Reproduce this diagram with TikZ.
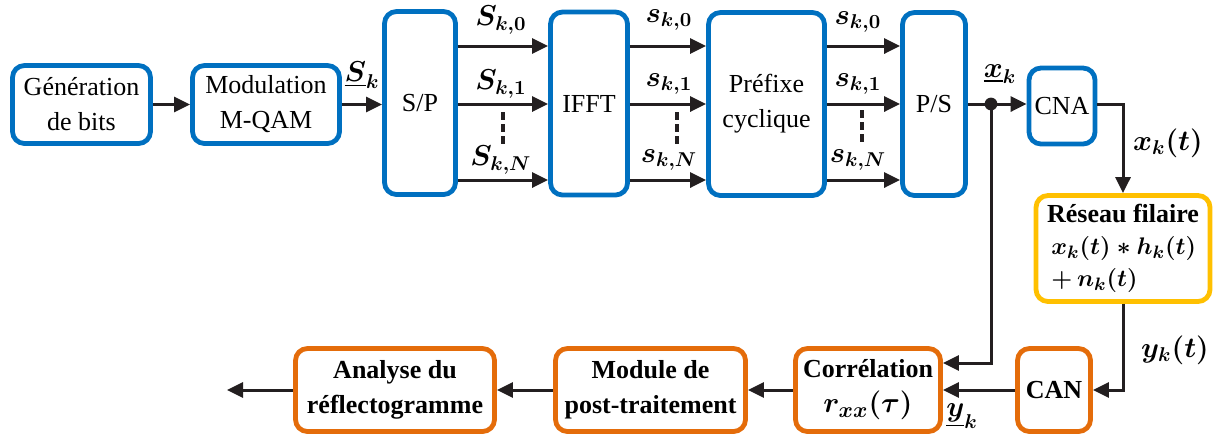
\documentclass[tikz,border=0pt]{standalone}
\usepackage{fontspec}
\setmainfont{Liberation Serif}
\usepackage{amsmath}
\usepackage{tikz}
\usetikzlibrary{arrows.meta}
\definecolor{bleu}{RGB}{0,112,192}
\definecolor{orangeb}{RGB}{228,108,10}
\definecolor{jaune}{RGB}{255,192,0}
\definecolor{trait}{RGB}{35,31,32}

\begin{document}
\begin{tikzpicture}[x=0.5pt, y=-0.5pt,
    bloc/.style = {draw=bleu, line width=2.4pt, rounded corners=6pt, fill=white, align=center, inner sep=2pt, font=\fontsize{13}{17.5}\selectfont},
    traite/.style = {bloc, draw=orangeb, font=\fontsize{13}{17.5}\selectfont\bfseries\boldmath},
    canal/.style = {bloc, draw=jaune, align=left, font=\fontsize{13}{16}\selectfont\bfseries\boldmath},
    sig/.style = {draw=trait, line width=1.5pt, -{Triangle[length=8pt,width=7.5pt]}},
    lbl/.style = {font=\fontsize{14.5}{16}\selectfont\boldmath, inner sep=1pt},
    pts/.style = {draw=trait, line width=1.6pt, dash pattern=on 4pt off 2pt}]
    \useasboundingbox (0,0) rectangle (1215,435);
    % chaine d'emission
    \node[bloc, minimum width=69pt, minimum height=39pt] (gen) at (81.5,104.5) {Génération\\de bits};
    \node[bloc, minimum width=73.5pt, minimum height=39pt] (mod) at (266,104.5) {Modulation\\M-QAM};
    \node[bloc, minimum width=35.5pt, minimum height=91.5pt] (sp) at (420,103) {S/P};
    \node[bloc, minimum width=38.5pt, minimum height=91.5pt] (ifft) at (589,103.5) {IFFT};
    \node[bloc, minimum width=58pt, minimum height=91.5pt] (cp) at (766.5,104) {Préfixe\\cyclique};
    \node[bloc, minimum width=31.5pt, minimum height=91.5pt] (ps) at (934,104) {P/S};
    \node[bloc, minimum width=33pt, minimum height=38pt] (cna) at (1062,106) {CNA};
    \node[canal, minimum width=87pt, minimum height=53pt] (res) at (1123,248.5)
        {Réseau filaire\\ \,$x_k(t) * h_k(t)$\\ \,$+\, n_k(t)$};
    % chaine de reception
    \node[traite, minimum width=36.5pt, minimum height=41.5pt] (can) at (1054,390) {CAN};
    \node[traite, minimum width=72.5pt, minimum height=41.5pt] (corr) at (868,390)
        {Corrélation\\{\fontsize{15}{17}\selectfont$r_{xx}(\tau)$}};
    \node[traite, minimum width=95pt, minimum height=41.5pt] (post) at (650.5,390) {Module de\\post-traitement};
    \node[traite, minimum width=99.5pt, minimum height=41.5pt] (ana) at (395,390) {Analyse du\\réflectogramme};
    \coordinate (fin) at (227,390);
    \coordinate (jct) at (991,104);
    \coordinate (haut) at (0,363);
    \coordinate (r0) at (0,46);
    \coordinate (r1) at (0,104);
    \coordinate (rN) at (0,180);
    % connexions
    \draw[sig] (gen) -- (mod);
    \draw[sig] (mod) -- (sp.west |- mod.east);
    \draw[sig] (sp.east |- r0) -- (ifft.west |- r0);
    \draw[sig] (sp.east |- r1) -- (ifft.west |- r1);
    \draw[sig] (sp.east |- rN) -- (ifft.west |- rN);
    \draw[sig] (ifft.east |- r0) -- (cp.west |- r0);
    \draw[sig] (ifft.east |- r1) -- (cp.west |- r1);
    \draw[sig] (ifft.east |- rN) -- (cp.west |- rN);
    \draw[sig] (cp.east |- r0) -- (ps.west |- r0);
    \draw[sig] (cp.east |- r1) -- (ps.west |- r1);
    \draw[sig] (cp.east |- rN) -- (ps.west |- rN);
    \draw[sig] (ps.east) -- (cna.west |- ps.east);
    \fill[trait] (jct) circle[radius=3.2pt];
    \draw[sig] (cna.east |- ps.east) -| (res.north);
    \draw[sig] (res.south) |- (can.east);
    \draw[sig] (jct) |- (corr.east |- haut);
    \draw[sig] (can) -- (corr);
    \draw[sig] (corr) -- (post);
    \draw[sig] (post) -- (ana);
    \draw[sig] (ana) -- (fin);
    % pointilles
    \draw[pts] (503,112) -- (503,144);
    \draw[pts] (677,112) -- (677,144);
    \draw[pts] (862,110) -- (862,142);
    % etiquettes
    \node[lbl] (lsk) at (362,75) {$\underline{S}_k$};
    \node[lbl] (ls0) at (501,20) {$S_{k,0}$};
    \node[lbl] (ls1) at (501,84) {$S_{k,1}$};
    \node[lbl] (lsN) at (501,160) {$S_{k,N}$};
    \node[lbl] (lt0) at (669,20) {$s_{k,0}$};
    \node[lbl] (lt1) at (669,84) {$s_{k,1}$};
    \node[lbl] (ltN) at (669,160) {$s_{k,N}$};
    \node[lbl] (lu0) at (858,22) {$s_{k,0}$};
    \node[lbl] (lu1) at (858,84) {$s_{k,1}$};
    \node[lbl] (luN) at (858,160) {$s_{k,N}$};
    \node[lbl] (lxk) at (1000,74) {$\underline{x}_k$};
    \node[lbl] (lxt) at (1168,143) {$x_k(t)$};
    \node[lbl] (lyt) at (1175,350) {$y_k(t)$};
    \node[lbl] (lyk) at (962,416) {$\underline{y}_k$};
\end{tikzpicture}
\end{document}
